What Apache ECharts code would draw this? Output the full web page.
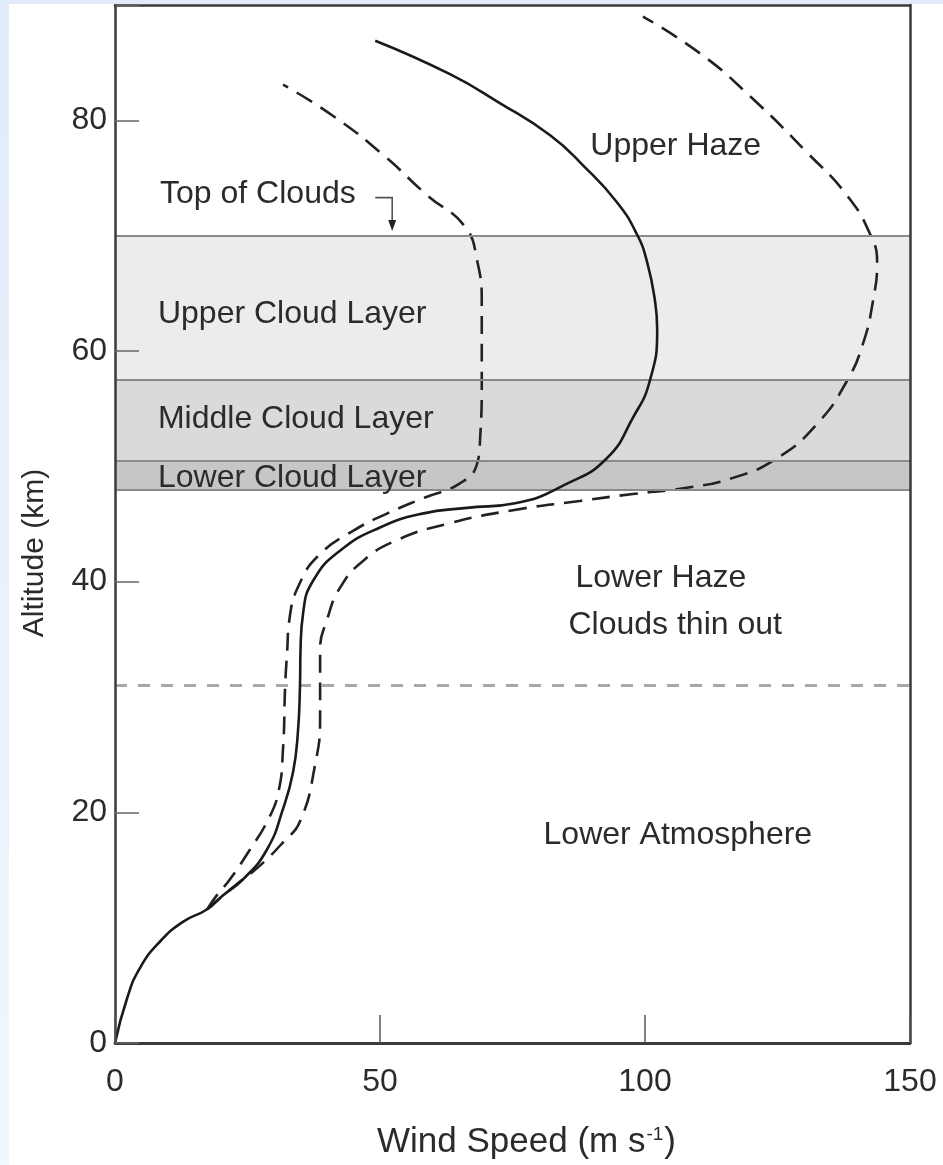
<!DOCTYPE html>
<html>
<head>
<meta charset="utf-8">
<script src="https://cdn.jsdelivr.net/npm/echarts@6/dist/echarts.min.js"></script>
<style>
  html, body { margin: 0; padding: 0; width: 943px; height: 1165px; overflow: hidden;
    background: linear-gradient(to bottom, #e1ebfb, #f2f6fd); }
  #paper { position: absolute; left: 9px; top: 4px; right: 0; bottom: 0; background: #fff; }
  #chart { position: absolute; left: 0; top: 0; width: 943px; height: 1165px; }
</style>
</head>
<body>
<div id="paper"></div>
<div id="chart"></div>
<script>
// Wind speed (m/s) versus altitude (km) profiles
const windTicks = [0, 50, 100, 150];
const altitudeTicks = [0, 20, 40, 60, 80];

// central profile (solid)
const centralWind = [0, 2.3, 4.7, 8.5, 12.8, 17.4, 20.4, 24.2, 28.7, 31.7, 33.6, 34.5, 34.9, 35.0, 35.5, 37.4, 42.5, 50.0, 58.0, 66.4, 75.5, 85.3, 92.8, 97.7, 100.9, 102.3, 101.9, 100.4, 98.5, 94.7, 88.3, 82.1, 72.6, 63.2, 49.1];
const centralAlt  = [0, 3.9, 6.5, 8.8, 10.5, 11.6, 12.8, 14.2, 16.8, 20.3, 23.5, 26.9, 30.9, 34.0, 37.3, 40.1, 42.7, 44.7, 45.9, 46.4, 46.8, 48.5, 50.7, 54.2, 57.4, 61.9, 64.3, 67.7, 70.1, 72.9, 76.1, 78.7, 81.5, 84.0, 86.9];

// lower bound profile (dashed)
const lowerWind = [17.4, 19.2, 21.7, 25.5, 28.7, 30.8, 31.7, 32.1, 32.5, 32.9, 34.9, 38.7, 44.9, 51.3, 58.5, 65.0, 68.3, 68.9, 69.2, 69.2, 68.3, 66.0, 58.9, 50.6, 41.1, 31.7];
const lowerAlt  = [11.6, 12.8, 14.2, 16.8, 19.2, 21.7, 25.5, 30.9, 34.1, 36.7, 39.9, 42.4, 44.4, 45.9, 47.3, 48.5, 50.2, 52.5, 57.4, 64.0, 67.9, 70.8, 73.5, 77.0, 80.4, 83.1];

// upper bound profile (dashed)
const upperWind = [17.4, 20.4, 23.6, 27.4, 31.7, 34.9, 37.7, 38.7, 38.7, 40.0, 42.5, 46.8, 53.2, 62.6, 75.1, 87.7, 97.7, 107.2, 116.6, 124.9, 132.5, 138.1, 141.1, 143.0, 143.8, 142.5, 138.1, 130.6, 119.8, 110.4, 99.6];
const upperAlt  = [11.6, 12.8, 14.0, 15.4, 17.4, 19.2, 24.0, 28.3, 34.1, 36.7, 39.5, 41.8, 43.6, 45.0, 46.2, 47.0, 47.6, 48.1, 49.0, 50.7, 53.7, 57.4, 60.6, 64.3, 67.7, 70.1, 73.5, 77.2, 82.1, 85.8, 89.0];

// cloud decks: [bottom, top] in km
const cloudLayerNames = ['Upper Cloud Layer', 'Middle Cloud Layer', 'Lower Cloud Layer'];
const cloudLayerBottoms = [57.5, 50.5, 48];
const cloudLayerTops = [70, 57.5, 50.5];
const hazeBoundaryAlt = 31;

const pairs = (xs, ys) => xs.map((x, i) => [x, ys[i]]);

const FONT = '"Liberation Sans", Arial, Helvetica, sans-serif';
const INK = '#2b2b2b';
const FRAME = '#3a3a3a';
const layerColors = ['#ececec', '#dadada', '#c6c6c6'];
const SMOOTH = 0.5;

const chart = echarts.init(document.getElementById('chart'), null, { renderer: 'canvas' });

// plain axes used only to close the plot frame on the top and right
const frameAxis = {
  type: 'value',
  axisLine: { show: true, onZero: false, lineStyle: { color: FRAME, width: 2.5 } },
  axisTick: { show: false },
  axisLabel: { show: false },
  splitLine: { show: false },
  z: 10
};

const option = {
  animation: false,
  backgroundColor: 'transparent',
  grid: { left: 115, right: 33, top: 5, bottom: 120, containLabel: false },
  xAxis: [
    {
      type: 'value', min: windTicks[0], max: windTicks[windTicks.length - 1], interval: 50,
      position: 'bottom',
      axisLine: { show: true, onZero: false, lineStyle: { color: FRAME, width: 2.8 } },
      axisTick: { show: true, inside: true, length: 28, lineStyle: { color: '#555', width: 1.5 } },
      axisLabel: { fontFamily: FONT, fontSize: 32, color: INK, margin: 23 },
      splitLine: { show: false },
      name: 'Wind Speed (m s{sup|-1})',
      nameLocation: 'middle',
      nameGap: 82,
      nameTextStyle: {
        fontFamily: FONT, fontSize: 35, color: INK, padding: [0, 0, 0, 28],
        rich: { sup: { fontFamily: FONT, fontSize: 19, color: INK, verticalAlign: 'top', padding: [0, 1, 14, 1] } }
      },
      z: 10
    },
    Object.assign({}, frameAxis, { min: 0, max: 150, position: 'top' })
  ],
  yAxis: [
    {
      type: 'value', min: altitudeTicks[0], max: 90, interval: 20,
      position: 'left',
      axisLine: { show: true, onZero: false, lineStyle: { color: FRAME, width: 2.5 } },
      axisTick: { show: true, inside: true, length: 24, lineStyle: { color: '#666', width: 1.5 } },
      axisLabel: {
        fontFamily: FONT, fontSize: 32, color: INK, margin: 8, padding: [6, 0, 0, 0],
        formatter: v => (altitudeTicks.indexOf(v) >= 0 ? String(v) : '')
      },
      splitLine: { show: false },
      z: 10
    },
    Object.assign({}, frameAxis, { min: 0, max: 90, position: 'right' })
  ],
  series: [
    {
      name: 'cloud layers',
      type: 'line',
      data: [],
      z: 1,
      markArea: {
        silent: true,
        data: cloudLayerNames.map((n, i) => [
          { yAxis: cloudLayerTops[i], itemStyle: { color: layerColors[i] } },
          { yAxis: cloudLayerBottoms[i] }
        ])
      },
      markLine: {
        silent: true,
        symbol: 'none',
        label: { show: false },
        data: [
          ...[...new Set(cloudLayerTops.concat(cloudLayerBottoms))].map(v => ({
            yAxis: v, lineStyle: { color: '#8a8a8a', width: 2, type: 'solid' }
          })),
          { yAxis: hazeBoundaryAlt, lineStyle: { color: '#a9a9a9', width: 3, type: [12, 11] } }
        ]
      }
    },
    {
      name: 'lower bound', type: 'line', data: pairs(lowerWind, lowerAlt),
      smooth: SMOOTH, showSymbol: false, z: 4,
      lineStyle: { color: '#222', width: 2.6, type: [18, 10] }
    },
    {
      name: 'upper bound', type: 'line', data: pairs(upperWind, upperAlt),
      smooth: SMOOTH, showSymbol: false, z: 4,
      lineStyle: { color: '#222', width: 2.6, type: [18, 10] }
    },
    {
      name: 'central', type: 'line', data: pairs(centralWind, centralAlt),
      smooth: SMOOTH, showSymbol: false, z: 5,
      lineStyle: { color: '#1a1a1a', width: 2.6 }
    }
  ]
};

chart.setOption(option);

// text annotations anchored in data units (wind, altitude)
const annotations = [
  { text: 'Upper Haze', at: [105.8, 77.8], align: 'center' },
  { text: 'Top of Clouds', at: [8.5, 73.6], align: 'left' },
  { text: cloudLayerNames[0], at: [8.1, 63.2], align: 'left' },
  { text: cloudLayerNames[1], at: [8.1, 54.1], align: 'left' },
  { text: cloudLayerNames[2], at: [8.1, 49.0], align: 'left' },
  { text: 'Lower Haze', at: [103.0, 40.3], align: 'center' },
  { text: 'Clouds thin out', at: [105.7, 36.2], align: 'center' },
  { text: 'Lower Atmosphere', at: [106.2, 18.0], align: 'center' }
];
const cloudTopArrow = [[49.1, 73.3], [52.3, 73.3], [52.3, 70.4]];

const toPx = p => chart.convertToPixel({ xAxisIndex: 0, yAxisIndex: 0 }, p);

const graphics = annotations.map(a => {
  const p = toPx(a.at);
  return {
    type: 'text', x: p[0], y: p[1], z: 20,
    style: { text: a.text, fontFamily: FONT, fontSize: 32, fill: INK, align: a.align, verticalAlign: 'middle' }
  };
});

const arrowPts = cloudTopArrow.map(toPx);
const tip = arrowPts[arrowPts.length - 1];
graphics.push({
  type: 'polyline', z: 20,
  shape: { points: arrowPts.slice(0, 2).concat([[tip[0], tip[1] - 8]]) },
  style: { stroke: '#555', lineWidth: 1.6, fill: null }
});
graphics.push({
  type: 'polygon', z: 20,
  shape: { points: [[tip[0] - 4, tip[1] - 11], [tip[0] + 4, tip[1] - 11], [tip[0], tip[1]]] },
  style: { fill: '#222' }
});
graphics.push({
  type: 'text', x: 35, y: 553, rotation: Math.PI / 2, z: 20,
  style: { text: 'Altitude (km)', fontFamily: FONT, fontSize: 30, fill: INK, align: 'center', verticalAlign: 'middle' }
});

chart.setOption({ graphic: graphics });
</script>
</body>
</html>
